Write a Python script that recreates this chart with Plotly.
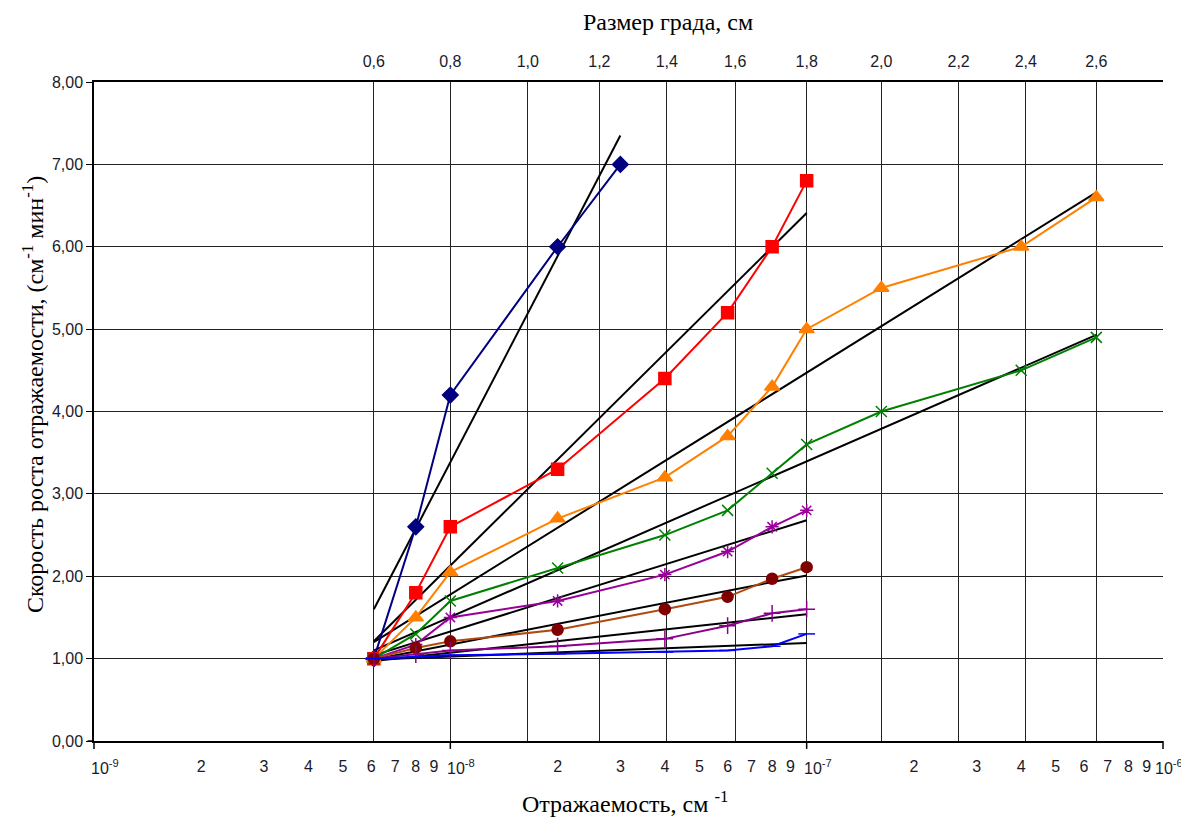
import math
import plotly.graph_objects as go

# ---- data ----
x_pts = [6.1e-9, 8e-9, 1e-8, 2e-8, 4e-8, 6e-8, 8e-8, 1e-7, 1.62e-7, 4e-7, 6.5e-7]
x_navy = [6.1e-9, 8e-9, 1e-8, 2e-8, 3e-8]

y_navy = [1.0, 2.6, 4.2, 6.0, 7.0]
y_red = [1.0, 1.8, 2.6, 3.3, 4.4, 5.2, 6.0, 6.8]
y_orange = [1.0, 1.5, 2.05, 2.7, 3.2, 3.7, 4.3, 5.0, 5.5, 6.0, 6.6]
y_green = [1.0, 1.3, 1.7, 2.1, 2.5, 2.8, 3.25, 3.6, 4.0, 4.5, 4.9]
y_star = [1.0, 1.17, 1.5, 1.7, 2.02, 2.3, 2.6, 2.8]
y_brown = [1.0, 1.13, 1.21, 1.35, 1.60, 1.75, 1.97, 2.11]
y_plus = [1.0, 1.05, 1.1, 1.15, 1.24, 1.40, 1.55, 1.60]
y_blue = [1.0, 1.02, 1.04, 1.06, 1.08, 1.10, 1.15, 1.30]

# trend lines (start, end)
trend_navy = [1.60, 7.35]
trend_red = [1.21, 6.41]
trend_orange = [1.20, 6.66]
trend_green = [1.10, 4.93]
trend_star = [1.04, 2.68]
trend_brown = [0.99, 2.01]
trend_plus = [0.97, 1.54]
trend_blue = [0.99, 1.19]

# top axis: hail size (cm) and its reflectivity position
hail_sizes = ["0,6", "0,8", "1,0", "1,2", "1,4", "1,6", "1,8", "2,0", "2,2", "2,4", "2,6"]
hail_z = [6.1e-9, 1e-8, 1.65e-8, 2.62e-8, 4.05e-8, 6.3e-8, 1e-7, 1.62e-7, 2.67e-7, 4.12e-7, 6.5e-7]

# bottom axis tick labels (digits as tick labels, decades as separate labels)
decades = [1e-9, 1e-8, 1e-7, 1e-6]
decade_labels = ["10<sup>-9</sup>", "10<sup>-8</sup>", "10<sup>-7</sup>", "10<sup>-6</sup>"]
bottom_vals = []
bottom_text = []
for d in decades[:3]:
    for m in range(2, 10):
        bottom_vals.append(m * d)
        bottom_text.append(str(m))

y_ticks = [0, 1, 2, 3, 4, 5, 6, 7, 8]
y_ticktext = ["0,00", "1,00", "2,00", "3,00", "4,00", "5,00", "6,00", "7,00", "8,00"]

fig = go.Figure()

# trend lines
trends = [
    (x_navy, trend_navy), (x_pts[:8], trend_red), (x_pts, trend_orange),
    (x_pts, trend_green), (x_pts[:8], trend_star), (x_pts[:8], trend_brown),
    (x_pts[:8], trend_plus), (x_pts[:8], trend_blue),
]
for xs, tr in trends:
    fig.add_trace(go.Scatter(x=[xs[0], xs[-1]], y=tr, mode="lines",
                             line=dict(color="black", width=2), showlegend=False,
                             hoverinfo="skip"))

series = [
    (x_navy, y_navy, "#000080", "#000080", "diamond", 12, "#000080"),
    (x_pts[:8], y_red, "#FF0000", "#FF0000", "square", 12, "#FF0000"),
    (x_pts, y_orange, "#FF8000", "#FF8000", "triangle-up", 13, "#FF8000"),
    (x_pts, y_green, "#008000", "#008000", "x-thin-open", 11, "#008000"),
    (x_pts[:8], y_star, "#990099", "#990099", "asterisk-open", 11, "#990099"),
    (x_pts[:8], y_brown, "#B04A10", "#800000", "circle", 11, "#800000"),
    (x_pts[:8], y_plus, "#8B008B", "#8B008B", "cross-thin-open", 12, "#8B008B"),
    (x_pts[:8], y_blue, "#0000FF", "#0000FF", "line-ew-open", 12, "#0000FF"),
]
for xs, ys, lc, mc, sym, sz, mlc in series:
    fig.add_trace(go.Scatter(x=xs, y=ys, mode="lines+markers",
                             line=dict(color=lc, width=2),
                             marker=dict(symbol=sym, size=sz, color=mc,
                                         line=dict(color=mlc, width=1.5)),
                             showlegend=False))

# invisible trace to activate the top axis
fig.add_trace(go.Scatter(x=[hail_z[0]], y=[0], xaxis="x2", mode="markers",
                         marker=dict(opacity=0), showlegend=False, hoverinfo="skip"))

tick_font = dict(family="Liberation Sans, Arial, sans-serif", size=16, color="#1a1a2a")
title_font = dict(family="Liberation Serif, Times New Roman, serif", size=24, color="black")

# the page body adds an 8px offset; size the figure so the plot lands where the reference has it
fig.update_layout(
    width=1181, height=813,
    margin=dict(l=86, r=26, t=74, b=80),
    paper_bgcolor="white", plot_bgcolor="white",
    xaxis=dict(type="log", range=[-9, -6], tickmode="array", tickvals=bottom_vals,
               ticktext=bottom_text, ticks="", tickangle=0, showgrid=False, zeroline=False,
               showline=True, linecolor="black", linewidth=1.5, tickfont=tick_font,
               ticklabelstandoff=10),
    xaxis2=dict(type="log", range=[-9, -6], overlaying="x", side="top",
                tickmode="array", tickvals=hail_z, ticktext=hail_sizes, ticks="",
                tickangle=0, showgrid=True, gridcolor="#222", gridwidth=1.2, zeroline=False,
                showline=True, linecolor="black", linewidth=1.5, tickfont=tick_font,
                ticklabelstandoff=7),
    yaxis=dict(range=[0, 8], tickmode="array", tickvals=y_ticks, ticktext=y_ticktext,
               ticks="outside", ticklen=6, tickcolor="black", showgrid=True,
               gridcolor="#222", gridwidth=1.2, zeroline=False, showline=True,
               linecolor="black", linewidth=1.5, tickfont=tick_font),
)

# decade labels, left-aligned at their tick like the reference
for i, (d, lab) in enumerate(zip(decades, decade_labels)):
    last = i == len(decades) - 1
    fig.add_annotation(text=lab, xref="x", yref="paper", x=math.log10(d), y=-0.04,
                       xanchor="right" if last else "left", yanchor="middle",
                       xshift=22 if last else -5, showarrow=False, font=tick_font)

# decade tick marks on the bottom axis
for px in (0, 1 / 3, 2 / 3, 1):
    fig.add_shape(type="line", xref="paper", yref="paper", x0=px, x1=px,
                  y0=-0.012, y1=0.0, line=dict(color="black", width=1.5))
fig.add_shape(type="line", xref="paper", yref="paper", x0=-0.006, x1=0.0,
              y0=0, y1=0, line=dict(color="black", width=1.5))

fig.add_annotation(text="Размер града, см", xref="paper", yref="paper",
                   x=0.537, y=1.091, showarrow=False, font=title_font,
                   xanchor="center", yanchor="middle")
fig.add_annotation(text="Отражаемость, см <sup>-1</sup>", xref="paper", yref="paper",
                   x=0.497, y=-0.092, showarrow=False, font=title_font,
                   xanchor="center", yanchor="middle")
fig.add_annotation(text="Скорость роста отражаемости, (см<sup>-1</sup> мин<sup>-1</sup>)",
                   xref="paper", yref="paper", x=-0.057, y=0.525, textangle=-90,
                   showarrow=False, font=title_font, xanchor="center", yanchor="middle")

fig.write_html("out.html")
